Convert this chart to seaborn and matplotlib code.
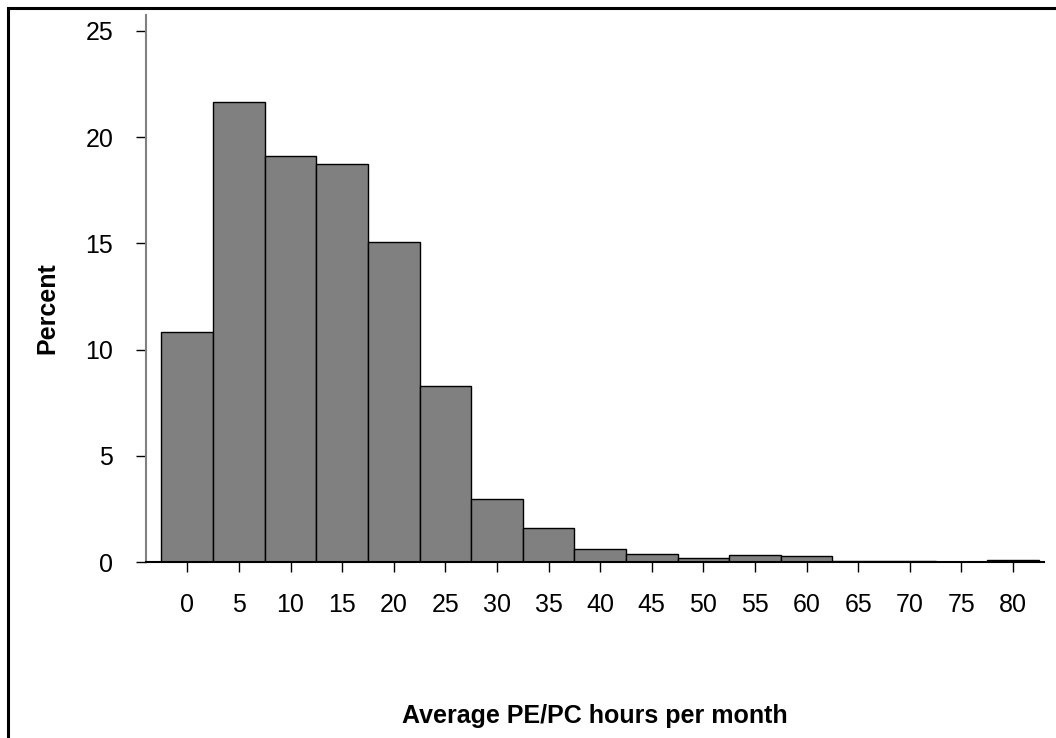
import matplotlib
matplotlib.use('Agg')
import matplotlib.pyplot as plt
import seaborn as sns
from matplotlib.patches import Rectangle

# bin centres (hours) and percent of respondents in each 5-hour bin
hours = [0, 5, 10, 15, 20, 25, 30, 35, 40, 45, 50, 55, 60, 65, 70, 75, 80]
percent = [10.85, 21.65, 19.1, 18.75, 15.05, 8.3, 2.95, 1.6, 0.6, 0.4,
           0.17, 0.33, 0.28, 0.07, 0.07, 0.0, 0.08]
y_ticks = [0, 5, 10, 15, 20, 25]

sns.set_theme(style='white')
plt.rcParams['font.family'] = ['Liberation Sans', 'DejaVu Sans']

W, H = 1056, 738
fig = plt.figure(figsize=(W / 100, H / 100), dpi=100)
ax = fig.add_axes([146 / W, 176 / H, 898 / W, 547 / H])

bin_edges = [h - 2.5 for h in hours] + [hours[-1] + 2.5]
sns.histplot(x=hours, weights=percent, bins=bin_edges, color='#808080',
             edgecolor='black', linewidth=1.0, alpha=1, ax=ax)

ax.set_xlim(-4, 83)
ax.set_ylim(0, 25.75)
ax.set_xticks(hours)
ax.set_xticklabels([str(h) for h in hours])
ax.set_yticks(y_ticks)
ax.set_yticklabels([str(t) for t in y_ticks])

for s in ['top', 'right']:
    ax.spines[s].set_visible(False)
ax.spines['left'].set_color('#808080')
ax.spines['left'].set_linewidth(1.5)
ax.spines['bottom'].set_color('black')
ax.spines['bottom'].set_linewidth(1.5)

ax.tick_params(axis='both', which='major', bottom=True, left=True,
               direction='out', length=7.5, width=1.0,
               color='black', labelsize=18, labelcolor='black')
ax.tick_params(axis='x', pad=15)
ax.tick_params(axis='y', pad=16)

ax.set_xlabel('Average PE/PC hours per month', fontsize=18,
              fontweight='bold', color='black')
ax.set_ylabel('Percent', fontsize=18, fontweight='bold', color='black')
ax.xaxis.set_label_coords(0.5, -0.26)
ax.yaxis.set_label_coords(-0.096, 0.464)

# outer frame (only top and left edges fall inside the picture)
frame = Rectangle((8 / W, -0.1), 1.2, (H - 8) / H + 0.1,
                  transform=fig.transFigure, fill=False,
                  edgecolor='black', linewidth=2.2, clip_on=False)
fig.patches.append(frame)

fig.savefig('out.png', dpi=100)
